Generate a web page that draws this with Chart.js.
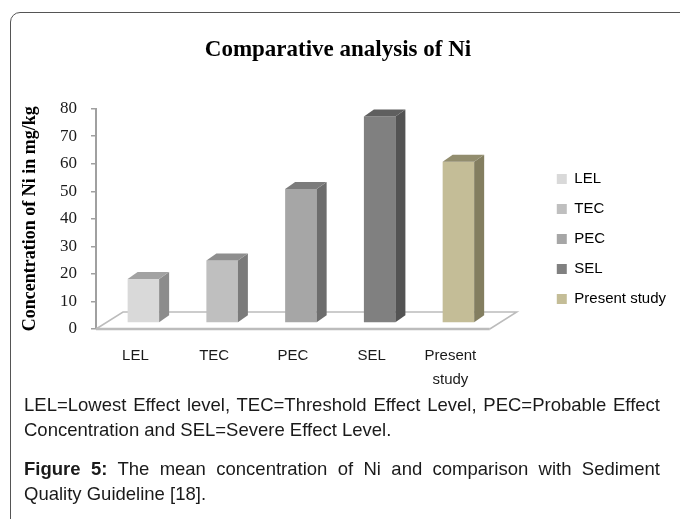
<!DOCTYPE html>
<html>
<head>
<meta charset="utf-8">
<script src="https://cdn.jsdelivr.net/npm/chart.js@4.4.0/dist/chart.umd.min.js"></script>
<style>
  html, body { margin: 0; padding: 0; background: #fff; width: 680px; height: 519px; overflow: hidden; }
  .frame { position: absolute; left: 10px; top: 12px; width: 720px; height: 560px;
           border: 1.5px solid #555; border-radius: 10px; }
  #myChart { position: absolute; left: 0; top: 0; }
  .cap { position: absolute; left: 24px; width: 636px; margin: 0;
         font-family: "Liberation Sans", Arial, sans-serif; font-size: 18.5px; line-height: 25px;
         color: #1a1a1a; text-align: justify; }
</style>
</head>
<body>
<div class="frame"></div>
<canvas id="myChart" width="680" height="478"></canvas>
<p class="cap" style="top:392px">LEL=Lowest Effect level, TEC=Threshold Effect Level, PEC=Probable Effect Concentration and SEL=Severe Effect Level.</p>
<p class="cap" style="top:456px"><b>Figure 5:</b> The mean concentration of Ni and comparison with Sediment Quality Guideline [18].</p>
<script>
const ctx = document.getElementById('myChart');

// данные
const categories = ['LEL', 'TEC', 'PEC', 'SEL', ['Present', 'study']];
const legendNames = ['LEL', 'TEC', 'PEC', 'SEL', 'Present study'];
const niValues = [16, 22.7, 48.6, 75, 58.5];
const yMin = 0;
const yMax = 80;
const yStep = 10;

// цвета граней
const frontColors = ['#d9d9d9', '#bfbfbf', '#a6a6a6', '#808080', '#c4bd97'];
const topColors = ['#a2a2a2', '#8e8e8e', '#7c7c7c', '#5f5f5f', '#928d6e'];
const sideColors = ['#8c8c8c', '#7b7b7b', '#6d6d6d', '#535353', '#837e60'];

const DEPTH = {dx: 10, dy: 7};   // глубина столбика
const SHIFT = {dx: 8, dy: -6};   // столбики стоят в середине "пола"
const FLOOR = {dx: 27, dy: 17};  // глубина пола

// псевдо-3D: пол, боковые и верхние грани
const bar3d = {
    id: 'bar3d',
    beforeDatasetsDraw(chart) {
        const c = chart.ctx;
        const a = chart.chartArea;
        const y0 = chart.scales.y.getPixelForValue(0);
        c.save();
        c.strokeStyle = '#bcbcbc';
        c.lineWidth = 1.5;
        c.beginPath();
        c.moveTo(a.left, y0);
        c.lineTo(a.left + FLOOR.dx, y0 - FLOOR.dy);
        c.lineTo(a.right + FLOOR.dx, y0 - FLOOR.dy);
        c.lineTo(a.right, y0);
        c.stroke();
        c.lineWidth = 2.5;
        c.beginPath();
        c.moveTo(a.left, y0);
        c.lineTo(a.right, y0);
        c.stroke();
        c.restore();

        c.save();
        c.translate(SHIFT.dx, SHIFT.dy);
    },
    afterDatasetsDraw(chart) {
        const c = chart.ctx;
        chart.getDatasetMeta(0).data.forEach((bar, i) => {
            const l = bar.x - bar.width / 2;
            const r = bar.x + bar.width / 2;
            const t = bar.y;
            const b = bar.base;
            c.fillStyle = sideColors[i];
            c.beginPath();
            c.moveTo(r, b);
            c.lineTo(r, t);
            c.lineTo(r + DEPTH.dx, t - DEPTH.dy);
            c.lineTo(r + DEPTH.dx, b - DEPTH.dy);
            c.closePath();
            c.fill();
            c.fillStyle = topColors[i];
            c.beginPath();
            c.moveTo(l, t);
            c.lineTo(r, t);
            c.lineTo(r + DEPTH.dx, t - DEPTH.dy);
            c.lineTo(l + DEPTH.dx, t - DEPTH.dy);
            c.closePath();
            c.fill();
        });
        c.restore();
    }
};

window.myChart = new Chart(ctx, {
    type: 'bar',
    data: {
        labels: categories,
        datasets: [{
            label: 'Ni',
            data: niValues,
            backgroundColor: frontColors,
            borderWidth: 0,
            barPercentage: 0.4,
            categoryPercentage: 1,
            clip: false
        }]
    },
    options: {
        responsive: false,
        devicePixelRatio: 1,
        animation: false,
        layout: {padding: {left: 0, right: 4, top: 0, bottom: 0}},
        scales: {
            x: {
                grid: {display: false, drawTicks: false},
                border: {display: false},
                ticks: {
                    color: '#1a1a1a',
                    padding: 15,
                    maxRotation: 0,
                    autoSkip: false,
                    font: {family: '"Liberation Sans", Arial, sans-serif', size: 15, lineHeight: 1.6}
                },
                afterFit(s) { s.height = 149; }
            },
            y: {
                min: yMin,
                max: yMax,
                grid: {drawOnChartArea: false, drawTicks: true, tickLength: 5, color: '#a0a0a0', lineWidth: 1.5},
                border: {display: true, color: '#a0a0a0', width: 2},
                ticks: {
                    stepSize: yStep,
                    color: '#1a1a1a',
                    padding: 14,
                    font: {family: '"Liberation Serif", "Times New Roman", serif', size: 17}
                },
                title: {
                    display: true,
                    text: 'Concentration of Ni in mg/kg',
                    color: '#000',
                    padding: {top: 20, bottom: 0},
                    font: {family: '"Liberation Serif", "Times New Roman", serif', size: 18, weight: 'bold'}
                },
                afterFit(s) { s.width = 96; }
            },
            gap: {
                type: 'linear',
                position: 'right',
                grid: {display: false},
                border: {display: false},
                ticks: {display: false},
                afterFit(s) { s.width = 52; }
            }
        },
        plugins: {
            title: {
                display: true,
                text: 'Comparative analysis of Ni',
                color: '#000',
                padding: {top: 36, bottom: 45},
                font: {family: '"Liberation Serif", "Times New Roman", serif', size: 23, weight: 'bold'}
            },
            legend: {
                position: 'right',
                maxWidth: 220,
                labels: {
                    boxWidth: 10,
                    boxHeight: 10,
                    padding: 15,
                    color: '#1a1a1a',
                    font: {family: '"Liberation Sans", Arial, sans-serif', size: 15},
                    generateLabels: () => legendNames.map((name, i) => ({
                        text: name,
                        fillStyle: frontColors[i],
                        strokeStyle: frontColors[i],
                        lineWidth: 0,
                        hidden: false,
                        index: i,
                        datasetIndex: 0
                    }))
                }
            },
            tooltip: {enabled: false}
        }
    },
    plugins: [bar3d]
});
</script>
</body>
</html>
